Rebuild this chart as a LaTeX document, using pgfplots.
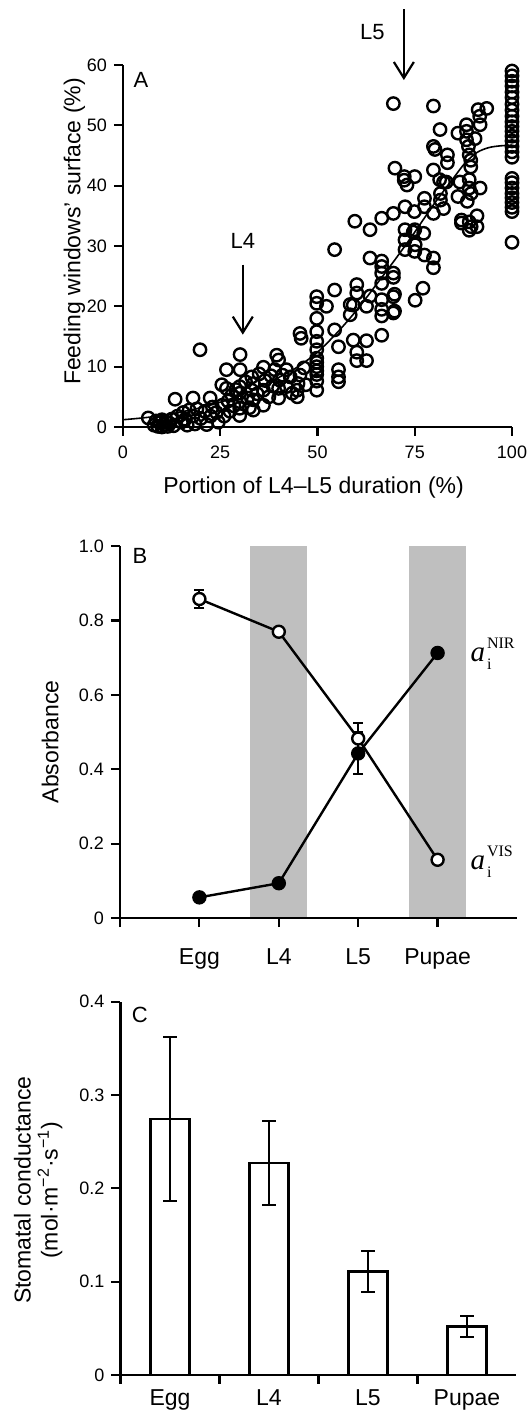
\documentclass[border=0pt]{standalone}
\usepackage{fontspec}
\setmainfont{Liberation Sans}
\newfontfamily\serif{Liberation Serif}
\usepackage{pgfplots}
\pgfplotsset{compat=1.18}
\usetikzlibrary{arrows.meta}
\definecolor{bandgray}{RGB}{191,191,191}
\newcommand{\absl}[1]{{\serif\fontsize{14.5}{15}\selectfont\textit{a}\kern1pt\rlap{\raisebox{6.5pt}{\fontsize{8}{9}\selectfont #1}}\raisebox{-4pt}{\fontsize{8}{9}\selectfont i}}}
\pgfplotsset{
 myaxis/.style={
  scale only axis,
  axis lines=left,
  axis line style={-, line width=1.1pt},
  tick style={line width=1.1pt, black},
  tick align=outside,
  major tick length=4.5pt,
  tick label style={font=\fontsize{9}{10}\selectfont},
  label style={font=\fontsize{11.5}{13.5}\selectfont},
  /pgf/number format/assume math mode=true,
  clip=false,
 }
}
\pgfplotstableread{
x y
6.5 1.5
8 0.3
8.5 1
9 0.1
9.5 0.7
10 0
10 1.2
10.5 0.4
11 0.9
11.5 0.1
12 0.6
12.5 1.3
13 0.2
13.4 4.6
14 1.8
15 0.8
15.5 2.4
16 1.3
16.5 0.3
17 2.8
18 4.8
18 1.8
18.5 0.5
19 3
19.8 12.8
20 1.4
21 2.6
21.5 0.4
22.4 4.8
22.5 1.8
23 3.3
24 2.4
24.5 0.8
25.4 7
25.5 3.6
26 1.8
26.6 9.5
26.6 6.4
27 4.3
27.5 2.6
28 5.3
28.5 3.5
29 6.2
30.1 12
30.1 9.5
30 6.7
30 5.6
30 4.2
30 3.1
30 1.9
31.5 7.5
32 4.8
32.5 3.2
33.1 8.3
33.5 7.2
33.1 6.1
33.5 4.5
33.5 2.8
34.5 5.5
35 8.8
36.1 9.9
36.5 7.7
36.1 6.1
36.1 3.6
37.5 5
38 8.5
38.5 6.8
39.5 11.9
40 11.1
39 9.5
40.2 7.8
40 6.4
40 4.8
41 8.6
42 9.5
43 8.3
42 6.7
43.5 5.6
44.8 6.1
44.8 5
45 7.2
45.5 8.6
45.5 15.5
45.8 14.7
46.5 9.8
47 7
49.8 21.6
49.8 20.5
49.8 18
49.8 15.8
49.8 14.2
49.8 12.8
49.8 11.4
49.8 10.7
49.8 10
49.8 9.3
49.8 8.7
49.8 7.6
49.8 6.1
52.3 20
54.4 29.4
54.4 22.7
54.4 16.1
55.4 13.3
55.4 9.5
55.4 8.3
55.4 7.5
58.4 20.3
58.4 18.6
59.2 20.2
59.2 14.4
59.6 34.1
60.1 23.6
60.1 22.2
60.1 12.4
60.1 11
62.6 20
62.6 14.3
62.6 11
63.5 21.7
63.5 32.7
63.5 28
66.5 34.6
66.5 27.5
66.5 26.6
66.5 25.5
66.5 23.8
66.5 21.1
66.5 19.5
66.5 18.4
66.5 15.2
69.5 35.4
69.5 25.5
69.5 24.8
69.8 22
69.5 21.6
69.8 19.2
69.5 18.9
69.9 42.9
69.5 53.6
72.5 36.5
72.5 32.7
72.5 31
72.5 29.4
72.3 40.9
72.3 41.5
73 40.1
74.9 35.7
75 32.7
75.1 30.2
75 29.1
75.1 21
75 41.5
74.6 32.3
77.5 37.9
77.5 36.5
77.3 32.1
77.5 28.5
77.1 23
79.8 35.4
79.8 28
79.8 26.4
79.8 42.6
79.8 46.5
80.2 46
79.8 53.2
81.5 49.3
81.4 41
81.6 38.7
81.6 37.6
82.4 36.2
82.4 40.6
83.1 40.6
83.4 45.1
83.4 43.8
86.1 48.7
86.6 40.6
86.1 38.2
87 34.3
87 33.8
88.3 50.1
88.3 49
88.3 47.6
88.8 46.5
89 45.1
89.4 44.2
89.4 43.1
89 41
89 39.6
89.5 38.7
88.5 37.4
89 34
89.5 33.2
89 32.6
90.5 47.8
91.3 52.6
91.8 50.1
91.7 51.5
91.8 39.6
91 35
91 33.2
93.5 52.8
100 59
100 58.2
100 57.3
100 56.5
100 55.5
100 54.6
100 53.5
100 52.5
100 51.5
100 50.6
100 49.8
100 49
100 48.2
100 47.4
100 46.5
100 45.6
100 44.7
100 41.2
100 40.5
100 39.6
100 38.7
100 38
100 37.2
100 36.4
100 35.7
100 30.6
}\scatterA
\begin{document}
\begin{tikzpicture}
\useasboundingbox (0,0) rectangle (264pt,709.5pt);
% ---------------- Panel A
\begin{axis}[myaxis, at={(61.5pt,496pt)}, anchor=south west,
  width=194.5pt, height=181pt,
  xmin=0, xmax=100, ymin=0, ymax=60,
  xtick={0,25,50,75,100}, ytick={0,10,...,60},
  xticklabel style={yshift=-1.5pt},
  xlabel={Portion of L4–L5 duration (\%)},
  ylabel={Feeding windows’ surface (\%)},
  xlabel style={at={(axis description cs:0.49,-0.166)}, anchor=center},
  ylabel style={at={(axis description cs:-0.125,0.54)}, anchor=center},
]
\addplot[black, line width=0.8pt, smooth] coordinates {
(0,1.2) (5,1.5) (10,1.9) (15,2.5) (20,3.2) (25,4.1) (30,5.2) (35,6.6) (40,8.2) (45,10) (50,12.4) (55,15.6) (60,19.3) (65,23.5) (70,27.8) (75,32.3) (80,37) (85,41.3) (88,43.8) (91,45.5) (94,46.3) (97,46.6) (100,46.7)};
\addplot[only marks, mark=o, mark size=3.1pt, mark options={line width=1.2pt, black}] table[x=x, y=y] {\scatterA};
\draw[-{Straight Barb[length=8pt, width=10pt]}, line width=1.1pt] (axis cs:72.2,69.2) -- (axis cs:72.2,57.5);
\draw[-{Straight Barb[length=8pt, width=10pt]}, line width=1.1pt] (axis cs:30.8,26.9) -- (axis cs:30.8,15.3);
\node[font=\fontsize{11}{12}\selectfont] at (axis cs:64.1,65.4) {L5};
\node[font=\fontsize{11}{12}\selectfont] at (axis cs:30.8,30.9) {L4};
\node[font=\fontsize{11}{12}\selectfont] at (axis description cs:0.046,0.958) {A};
\end{axis}
% ---------------- Panel B
\begin{axis}[myaxis, at={(60pt,250.4pt)}, anchor=south west,
  width=198.5pt, height=186pt, axis on top,
  xmin=0, xmax=5, ymin=0, ymax=1,
  xtick={0,1,2,3,4}, xticklabels={,Egg,L4,L5,Pupae},
  xticklabel style={font=\fontsize{11.5}{13}\selectfont, yshift=-7pt},
  ytick={0,0.2,0.4,0.6,0.8,1.0}, yticklabels={0,0.2,0.4,0.6,0.8,1.0},
  ylabel={Absorbance},
  ylabel style={at={(axis description cs:-0.176,0.474)}, anchor=center},
]
\addplot[fill=bandgray, draw=none] coordinates {(1.64,1) (2.36,1)} \closedcycle;
\addplot[fill=bandgray, draw=none] coordinates {(3.64,1) (4.36,1)} \closedcycle;
\addplot[black, line width=1.2pt, mark=*, mark size=3pt, mark options={fill=black},
  error bars/.cd, y dir=both, y explicit,
  error bar style={line width=1.1pt},
  error mark options={rotate=90, mark size=2.5pt, line width=1.1pt}]
  coordinates {(1,0.056) +- (0,0) (2,0.094) +- (0,0) (3,0.443) +- (0,0.056) (4,0.713) +- (0,0)};
\addplot[black, line width=1.2pt, mark=*, mark size=3pt, mark options={fill=white},
  error bars/.cd, y dir=both, y explicit,
  error bar style={line width=1.1pt},
  error mark options={rotate=90, mark size=2.5pt, line width=1.1pt}]
  coordinates {(1,0.858) +- (0,0.024) (2,0.770) +- (0,0) (3,0.483) +- (0,0.042) (4,0.157) +- (0,0)};
\node[font=\fontsize{11}{12}\selectfont] at (axis description cs:0.05,0.975) {B};
\node[anchor=west, inner sep=0pt] at (axis cs:4.41,0.712) {\absl{NIR}};
\node[anchor=west, inner sep=0pt] at (axis cs:4.41,0.152) {\absl{VIS}};
\end{axis}
% ---------------- Panel C
\begin{axis}[myaxis, at={(60.25pt,22pt)}, anchor=south west,
  width=198pt, height=186.7pt,
  xmin=0, xmax=4, ymin=0, ymax=0.4,
  xtick={0,1,2,3}, xticklabels={},
  extra x ticks={0.5,1.5,2.5,3.5}, extra x tick labels={Egg,L4,L5,Pupae},
  extra x tick style={major tick length=0pt, xticklabel style={font=\fontsize{11.5}{13}\selectfont, yshift=-4pt}},
  ytick={0,0.1,0.2,0.3,0.4}, yticklabels={0,0.1,0.2,0.3,0.4},
  ylabel={Stomatal conductance\\(mol·m\textsuperscript{−2}·s\textsuperscript{−1})},
  ylabel style={at={(axis description cs:-0.208,0.495)}, anchor=center, align=center},
]
\addplot[ybar, bar width=0.39, bar shift=0pt, fill=white, draw=black, line width=1.2pt,
  error bars/.cd, y dir=both, y explicit,
  error bar style={line width=1.1pt},
  error mark options={rotate=90, mark size=3.3pt, line width=1.1pt}]
  coordinates {(0.5,0.274) +- (0,0.088) (1.5,0.227) +- (0,0.045) (2.5,0.111) +- (0,0.022) (3.5,0.052) +- (0,0.011)};
\node[font=\fontsize{11}{12}\selectfont] at (axis description cs:0.049,0.964) {C};
\end{axis}
\end{tikzpicture}
\end{document}
